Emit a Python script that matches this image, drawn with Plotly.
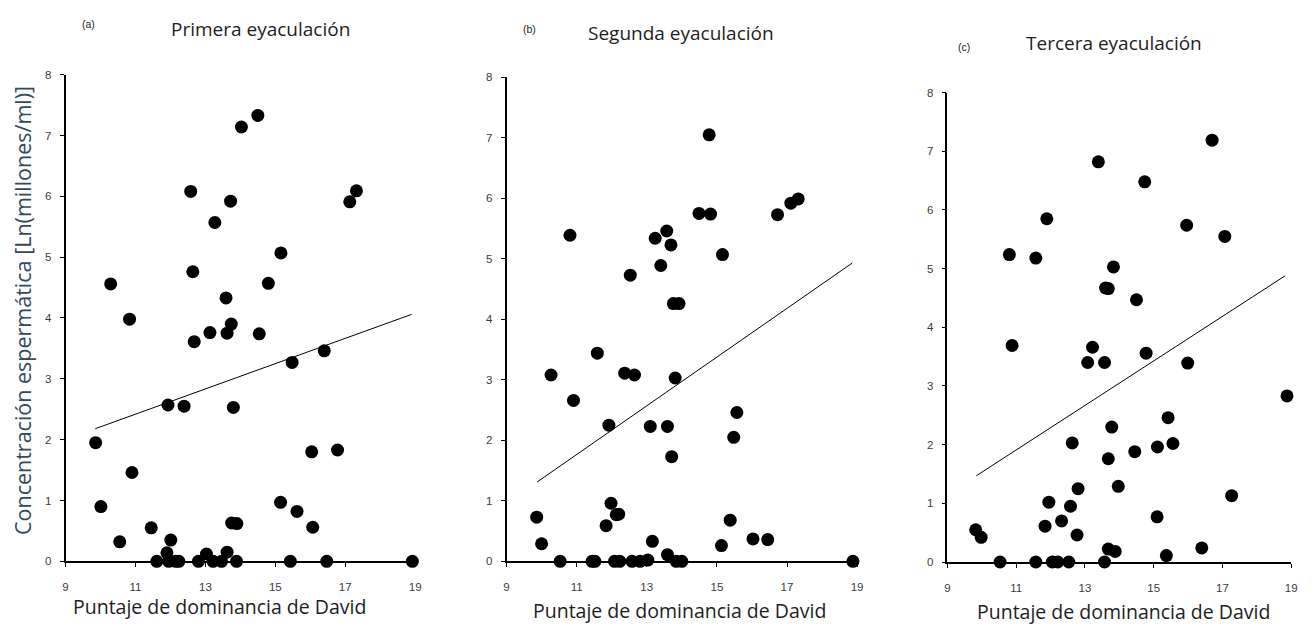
import plotly.graph_objects as go

# Puntaje de dominancia de David vs. concentración espermática, tres eyaculaciones
x_primera = [9.86, 10.01, 10.29, 10.55, 10.83, 10.90, 11.45, 11.61, 11.90, 11.93, 11.95, 12.01,
             12.15, 12.24, 12.39, 12.58, 12.64, 12.68, 12.80, 13.03, 13.13, 13.22, 13.27, 13.46,
             13.59, 13.62, 13.62, 13.72, 13.74, 13.75, 13.80, 13.89, 13.90, 14.03, 14.50, 14.54,
             14.80, 15.15, 15.16, 15.43, 15.48, 15.62, 16.04, 16.07, 16.40, 16.47, 16.78, 17.13,
             17.32, 18.92]
y_primera = [1.95, 0.90, 4.56, 0.32, 3.98, 1.46, 0.55, 0.00, 0.14, 2.57, 0.00, 0.35,
             0.00, 0.00, 2.55, 6.08, 4.76, 3.61, 0.00, 0.12, 3.76, 0.00, 5.57, 0.00,
             4.33, 3.75, 0.15, 5.92, 3.90, 0.63, 2.53, 0.00, 0.62, 7.14, 7.33, 3.74,
             4.57, 0.97, 5.07, 0.00, 3.27, 0.82, 1.80, 0.56, 3.46, 0.00, 1.83, 5.91,
             6.09, 0.00]

x_segunda = [9.86, 10.00, 10.27, 10.53, 10.81, 10.91, 11.44, 11.52, 11.59, 11.84, 11.92, 11.98,
             12.08, 12.13, 12.20, 12.23, 12.37, 12.53, 12.58, 12.65, 12.81, 13.03, 13.10, 13.16,
             13.24, 13.40, 13.57, 13.59, 13.59, 13.69, 13.71, 13.76, 13.81, 13.84, 13.92, 14.00,
             14.49, 14.78, 14.82, 15.13, 15.16, 15.38, 15.48, 15.57, 16.03, 16.45, 16.73, 17.11,
             17.32, 18.88]
y_segunda = [0.73, 0.29, 3.08, 0.00, 5.39, 2.66, 0.00, 0.00, 3.44, 0.59, 2.25, 0.96,
             0.00, 0.77, 0.78, 0.00, 3.11, 4.73, 0.00, 3.08, 0.00, 0.02, 2.23, 0.33,
             5.34, 4.89, 5.46, 2.23, 0.11, 5.23, 1.73, 4.26, 3.03, 0.00, 4.26, 0.00,
             5.75, 7.05, 5.74, 0.26, 5.07, 0.68, 2.05, 2.46, 0.37, 0.36, 5.73, 5.92,
             5.99, 0.00]

x_tercera = [9.82, 9.98, 10.53, 10.80, 10.88, 11.57, 11.57, 11.84, 11.89, 11.95, 12.05, 12.21,
             12.32, 12.53, 12.58, 12.63, 12.77, 12.80, 13.08, 13.22, 13.39, 13.57, 13.57, 13.60,
             13.68, 13.68, 13.68, 13.78, 13.83, 13.88, 13.97, 14.45, 14.50, 14.74, 14.78, 15.10,
             15.11, 15.37, 15.42, 15.56, 15.96, 15.99, 16.40, 16.70, 17.07, 17.27, 18.88]
y_tercera = [0.55, 0.42, 0.00, 5.24, 3.69, 5.18, 0.00, 0.61, 5.85, 1.02, 0.00, 0.00,
             0.70, 0.00, 0.95, 2.03, 0.46, 1.25, 3.40, 3.66, 6.82, 3.40, 0.00, 4.67,
             4.66, 0.22, 1.76, 2.30, 5.03, 0.18, 1.29, 1.88, 4.47, 6.48, 3.56, 0.77,
             1.96, 0.11, 2.46, 2.02, 5.74, 3.39, 0.24, 7.19, 5.55, 1.13, 2.83]

# Rectas de regresión (extremos)
recta_x_primera = [9.85, 18.90]
recta_y_primera = [2.18, 4.06]
recta_x_segunda = [9.87, 18.86]
recta_y_segunda = [1.31, 4.93]
recta_x_tercera = [9.84, 18.83]
recta_y_tercera = [1.47, 4.88]

x_ticks = [9, 11, 13, 15, 17, 19]
y_ticks = [0, 1, 2, 3, 4, 5, 6, 7, 8]

titulos = ["Primera eyaculación", "Segunda eyaculación", "Tercera eyaculación"]
letras = ["(a)", "(b)", "(c)"]
titulo_x = "Puntaje de dominancia de David"
titulo_y = "Concentración espermática [Ln(millones/ml)]"

W, H = 1315, 636

def px(v):
    return v / W

def py(v):
    return 1 - v / H

# Marcos de cada panel en píxeles: (izq, der, arriba, abajo)
marcos = [(63, 415, 70, 566), (507, 860, 72.7, 566), (951, 1297, 88.3, 566.7)]

series = [
    (x_primera, y_primera, recta_x_primera, recta_y_primera),
    (x_segunda, y_segunda, recta_x_segunda, recta_y_segunda),
    (x_tercera, y_tercera, recta_x_tercera, recta_y_tercera),
]

fig = go.Figure()
layout_axes = {}
for i, ((xs, ys, rx, ry), (l, r, t, b)) in enumerate(zip(series, marcos)):
    n = "" if i == 0 else str(i + 1)
    fig.add_trace(go.Scatter(
        x=rx, y=ry, mode="lines", line=dict(color="black", width=1),
        xaxis="x" + n, yaxis="y" + n, showlegend=False, hoverinfo="skip"))
    fig.add_trace(go.Scatter(
        x=xs, y=ys, mode="markers",
        marker=dict(color="black", size=13, line=dict(width=0)),
        cliponaxis=False, xaxis="x" + n, yaxis="y" + n, showlegend=False))
    axis_common = dict(
        showline=True, linecolor="black", linewidth=1.5, ticks="outside",
        ticklen=4, tickwidth=1.2, tickcolor="black", showgrid=False, zeroline=False,
        tickfont=dict(family="Arial, Liberation Sans", size=11.5, color="#3c3c3c"),
    )
    layout_axes["xaxis" + n] = dict(
        axis_common, domain=[px(l), px(r)], range=[9, 19], tickvals=x_ticks,
        anchor="y" + n, fixedrange=True, ticklabelstandoff=10)
    layout_axes["yaxis" + n] = dict(
        axis_common, domain=[py(b), py(t)], range=[0, 8], tickvals=y_ticks,
        anchor="x" + n, fixedrange=True, ticklabelstandoff=6)

titulo_pos = [(259, 23), (683, 28), (1119, 38)]
letra_pos = [(86, 18), (530, 23), (968, 42)]
xtitulo_pos = [(218, 612), (681, 616), (1128, 617)]

annotations = []
for txt, (ax, ay) in zip(titulos, titulo_pos):
    annotations.append(dict(text=txt, x=px(ax), y=py(ay), xref="paper", yref="paper",
                            showarrow=False, xanchor="center", yanchor="middle",
                            font=dict(family="Open Sans", size=19, color="#1e1e1e")))
for txt, (ax, ay) in zip(letras, letra_pos):
    annotations.append(dict(text=txt, x=px(ax), y=py(ay), xref="paper", yref="paper",
                            showarrow=False, xanchor="center", yanchor="middle",
                            font=dict(family="Arial, Liberation Sans", size=10.5, color="#1e1e1e")))
for (ax, ay) in xtitulo_pos:
    annotations.append(dict(text=titulo_x, x=px(ax), y=py(ay), xref="paper", yref="paper",
                            showarrow=False, xanchor="center", yanchor="middle",
                            font=dict(family="Open Sans", size=19.5, color="#1e1e1e")))
annotations.append(dict(text=titulo_y, x=px(19), y=py(310), xref="paper", yref="paper",
                        showarrow=False, xanchor="center", yanchor="middle", textangle=-90,
                        font=dict(family="Open Sans", size=21.5, color="#34495e")))

fig.update_layout(
    width=W, height=H, margin=dict(l=0, r=0, t=0, b=0),
    paper_bgcolor="white", plot_bgcolor="white",
    annotations=annotations, **layout_axes,
)

fig.write_html("out.html")
